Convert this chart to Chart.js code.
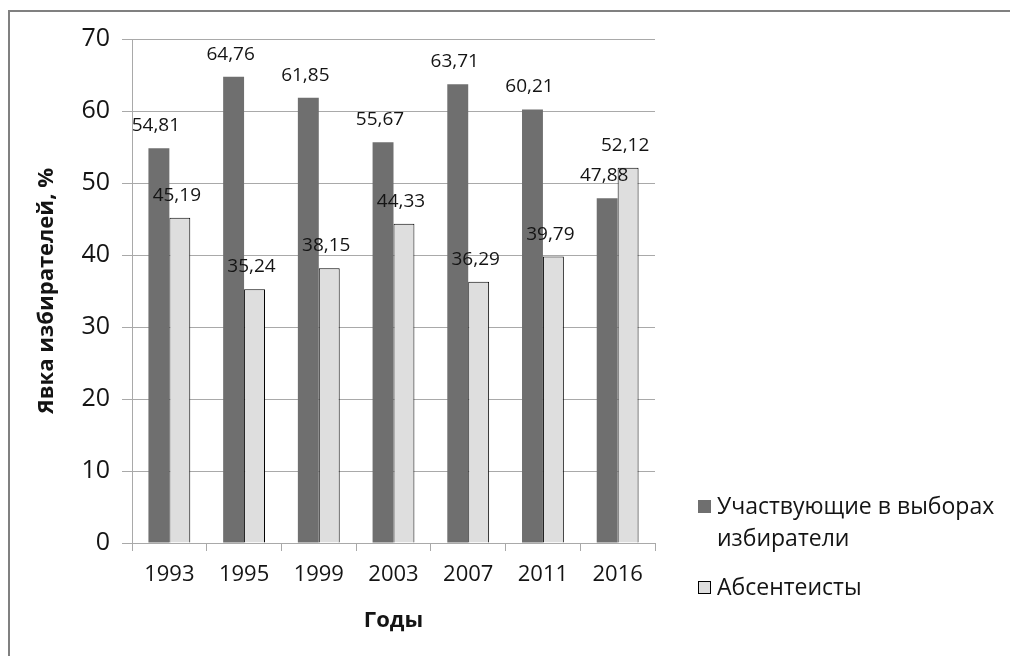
<!DOCTYPE html>
<html>
<head>
<meta charset="utf-8">
<script src="https://cdn.jsdelivr.net/npm/chart.js@4"></script>
<style>
html,body{margin:0;padding:0;background:#fff;}
#wrap{position:relative;width:1010px;height:656px;}
</style>
</head>
<body>
<div id="wrap"><canvas id="c" width="1010" height="656"></canvas></div>
<script>
const categories = ['1993', '1995', '1999', '2003', '2007', '2011', '2016'];
const participants = [54.81, 64.76, 61.85, 55.67, 63.71, 60.21, 47.88];
const absentees = [45.19, 35.24, 38.15, 44.33, 36.29, 39.79, 52.12];
const seriesNames = [['Участвующие в выборах', 'избиратели'], ['Абсентеисты']];
const yTicks = [0, 10, 20, 30, 40, 50, 60, 70];
const yTitle = 'Явка избирателей, %';
const xTitle = 'Годы';

const FONT = "'Open Sans', 'DejaVu Sans', sans-serif";
const DARK = '#6f6f6f';
const LIGHT = '#dedede';
const GRID = '#a9a9a9';
const TEXT = '#141414';

const frame = {
  id: 'frame',
  beforeDraw(chart) {
    const ctx = chart.ctx;
    ctx.save();
    ctx.fillStyle = '#fff';
    ctx.fillRect(0, 0, chart.width, chart.height);
    ctx.fillStyle = '#808080';
    ctx.fillRect(9, 10, chart.width - 9, 2);
    ctx.fillRect(8, 10, 2, chart.height - 10);
    ctx.restore();
  }
};

const valueLabels = {
  id: 'valueLabels',
  afterDatasetsDraw(chart) {
    const ctx = chart.ctx;
    ctx.save();
    ctx.font = '19px ' + FONT;
    ctx.fillStyle = TEXT;
    ctx.textAlign = 'center';
    ctx.textBaseline = 'alphabetic';
    chart.data.datasets.forEach((ds, di) => {
      const meta = chart.getDatasetMeta(di);
      meta.data.forEach((el, i) => {
        const txt = ds.data[i].toFixed(2).replace('.', ',');
        ctx.fillText(txt, el.x - 3, el.y - 17);
      });
    });
    ctx.restore();
  }
};

const sideLegend = {
  id: 'sideLegend',
  afterDraw(chart) {
    const ctx = chart.ctx;
    const x0 = chart.chartArea.right + 43;
    const textX = x0 + 19;
    const rows = [{ top: 500, lines: seriesNames[0], fill: DARK, stroke: null },
                  { top: 581, lines: seriesNames[1], fill: LIGHT, stroke: '#000' }];
    ctx.save();
    ctx.font = '23px ' + FONT;
    ctx.fillStyle = TEXT;
    ctx.textBaseline = 'alphabetic';
    ctx.textAlign = 'left';
    rows.forEach(r => {
      ctx.fillStyle = r.fill;
      ctx.fillRect(x0, r.top, 13, 13);
      if (r.stroke) {
        ctx.strokeStyle = r.stroke;
        ctx.lineWidth = 1;
        ctx.strokeRect(x0 + 0.5, r.top + 0.5, 12, 12);
      }
      ctx.fillStyle = TEXT;
      r.lines.forEach((ln, k) => ctx.fillText(ln, textX, r.top + 14 + k * 32));
    });
    ctx.restore();
  }
};

new Chart(document.getElementById('c'), {
  type: 'bar',
  data: {
    labels: categories,
    datasets: [
      { label: seriesNames[0].join(' '), data: participants, backgroundColor: DARK, borderWidth: 0,
        categoryPercentage: 0.56, barPercentage: 1.0 },
      { label: seriesNames[1].join(' '), data: absentees, backgroundColor: LIGHT, borderColor: '#000', borderWidth: 1,
        categoryPercentage: 0.56, barPercentage: 1.0 }
    ]
  },
  options: {
    responsive: false,
    animation: false,
    layout: { padding: { top: 39, right: 355, left: 0, bottom: 0 } },
    plugins: { legend: { display: false }, tooltip: { enabled: false } },
    scales: {
      x: {
        offset: true,
        grid: { offset: true, drawOnChartArea: false, drawTicks: true, tickLength: 8, color: GRID },
        border: { display: true, color: GRID, width: 1 },
        ticks: { font: { family: FONT, size: 22 }, color: TEXT, padding: 11, maxRotation: 0 },
        title: { display: true, text: xTitle, font: { family: FONT, size: 22, weight: 'bold' }, color: TEXT,
                 padding: { top: 0, bottom: 22 } },
        afterFit(scale) { scale.height = 113; }
      },
      y: {
        min: 0, max: 70,
        afterBuildTicks(scale) { scale.ticks = yTicks.map(v => ({ value: v })); },
        grid: { color: GRID, tickLength: 10, drawTicks: true },
        border: { display: true, color: GRID, width: 1 },
        ticks: { font: { family: FONT, size: 25 }, color: TEXT, padding: 12 },
        title: { display: true, text: yTitle, font: { family: FONT, size: 22, weight: 'bold' }, color: TEXT,
                 padding: { top: 34, bottom: 0 } },
        afterFit(scale) { scale.width = 132; }
      }
    }
  },
  plugins: [frame, valueLabels, sideLegend]
});
</script>
</body>
</html>
